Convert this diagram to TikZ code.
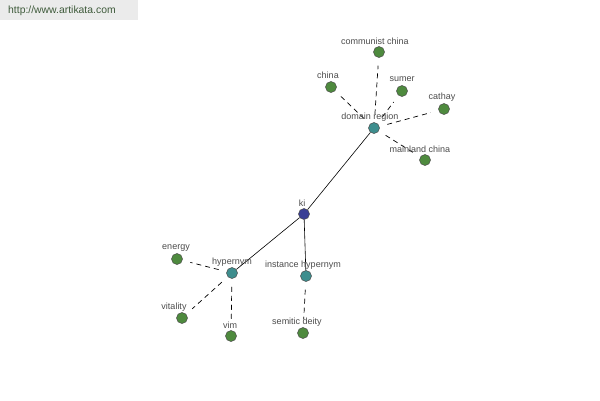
\documentclass[tikz,border=0pt]{standalone}
\usepackage{fontspec}
\setmainfont{Liberation Sans}
\begin{document}
\begin{tikzpicture}[x=1pt,y=-1pt,
  leaf/.style={circle,draw=black!70,fill=leafgreen,minimum size=11pt,inner sep=0pt,line width=0.5pt},
  hub/.style={circle,draw=black!70,fill=hubteal,minimum size=11pt,inner sep=0pt,line width=0.5pt},
  root/.style={circle,draw=black!70,fill=rootblue,minimum size=11pt,inner sep=0pt,line width=0.5pt},
  lbl/.style={font=\fontsize{9}{10}\selectfont,text=black!70,inner sep=0pt},
  solidedge/.style={draw=black,line width=0.6pt},
  dashedge/.style={draw=black,dash pattern=on 5pt off 4pt,line width=0.7pt,shorten <=8pt,shorten >=8pt}]
\definecolor{leafgreen}{HTML}{4E8A3E}
\definecolor{hubteal}{HTML}{3E8E8E}
\definecolor{rootblue}{HTML}{3A3F95}
\definecolor{hdrgray}{HTML}{EBEBEB}
\definecolor{hdrtext}{HTML}{3E5A3A}
\useasboundingbox (0,0) rectangle (600,400);
\fill[white] (0,0) rectangle (600,400);
\fill[hdrgray] (0,0) rectangle (138,20);
\node[anchor=west,font=\fontsize{10.4}{11}\selectfont,text=hdrtext,inner sep=0pt] (hdr) at (8,11) {http://www.artikata.com};
% nodes
\node[root] (ki) at (304,214) {};
\node[hub] (dr) at (374,128) {};
\node[hub] (hy) at (232,273) {};
\node[hub] (ih) at (306,276) {};
\node[leaf] (cc) at (379,52) {};
\node[leaf] (ch) at (331,87) {};
\node[leaf] (su) at (402,91) {};
\node[leaf] (ca) at (444,109) {};
\node[leaf] (mc) at (425,160) {};
\node[leaf] (en) at (177,259) {};
\node[leaf] (vi) at (182,318) {};
\node[leaf] (vm) at (231,336) {};
\node[leaf] (sd) at (303,333) {};
% edges
\draw[solidedge] (ki) -- (dr);
\draw[solidedge] (ki) -- (hy);
\draw[solidedge] (ki) -- (ih);
\draw[dashedge] (dr) -- (cc);
\draw[dashedge] (dr) -- (ch);
\draw[dashedge] (dr) -- (su);
\draw[dashedge] (dr) -- (ca);
\draw[dashedge] (dr) -- (mc);
\draw[dashedge] (hy) -- (en);
\draw[dashedge] (hy) -- (vi);
\draw[dashedge] (hy) -- (vm);
\draw[dashedge] (ih) -- (sd);
% labels
\node[lbl] (lki) at (302,203) {ki};
\node[lbl] (ldr) at (370,117) {domain region};
\node[lbl] (lhy) at (232,262) {hypernym};
\node[lbl] (lih) at (303,265) {instance hypernym};
\node[lbl] (lcc) at (375,41) {communist china};
\node[lbl] (lch) at (328,75) {china};
\node[lbl] (lsu) at (402,79) {sumer};
\node[lbl] (lca) at (442,97) {cathay};
\node[lbl] (lmc) at (420,149) {mainland china};
\node[lbl] (len) at (176,248) {energy};
\node[lbl] (lvi) at (174,307) {vitality};
\node[lbl] (lvm) at (230,325) {vim};
\node[lbl] (lsd) at (297,322) {semitic deity};
\end{tikzpicture}
\end{document}
